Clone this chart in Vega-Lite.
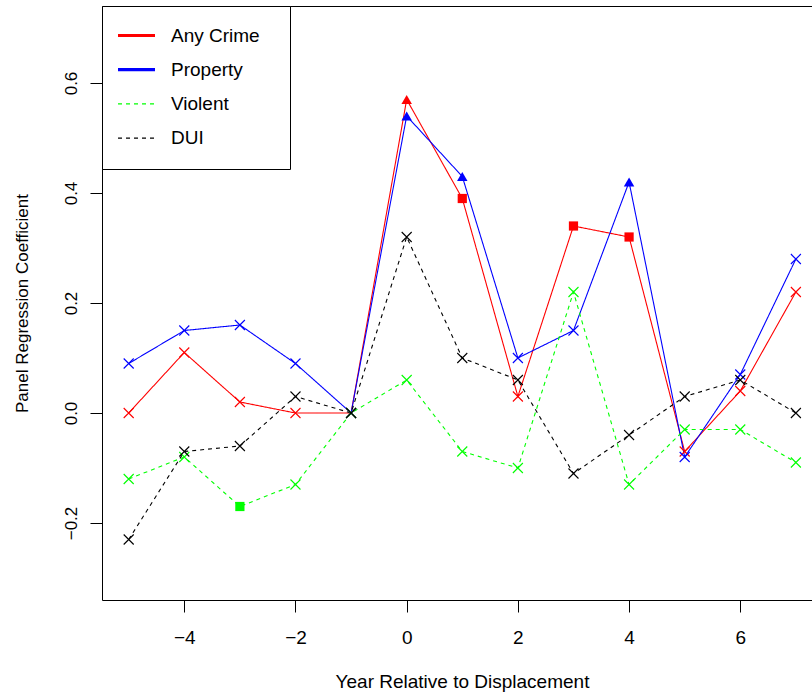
{
  "$schema": "https://vega.github.io/schema/vega-lite/v6.json",
  "autosize": {"type": "none"},
  "padding": {"left": 102, "top": 6, "right": 0, "bottom": 94},
  "width": 710,
  "height": 594,
  "background": "white",
  "config": {
    "font": "Liberation Sans",
    "view": {"stroke": "black", "strokeWidth": 1},
    "axis": {"grid": false, "domain": false, "tickColor": "black", "tickSize": 12, "labelColor": "black", "titleColor": "black", "titleFontWeight": "normal", "labelFont": "Liberation Sans", "titleFont": "Liberation Sans"}
  },
  "data": {"values": [
    {"year": -5, "series": "Any Crime", "coef": 0.00, "sig": "no"},
    {"year": -4, "series": "Any Crime", "coef": 0.11, "sig": "no"},
    {"year": -3, "series": "Any Crime", "coef": 0.02, "sig": "no"},
    {"year": -2, "series": "Any Crime", "coef": 0.00, "sig": "no"},
    {"year": -1, "series": "Any Crime", "coef": 0.00, "sig": "no"},
    {"year": 0, "series": "Any Crime", "coef": 0.57, "sig": "strong"},
    {"year": 1, "series": "Any Crime", "coef": 0.39, "sig": "moderate"},
    {"year": 2, "series": "Any Crime", "coef": 0.03, "sig": "no"},
    {"year": 3, "series": "Any Crime", "coef": 0.34, "sig": "moderate"},
    {"year": 4, "series": "Any Crime", "coef": 0.32, "sig": "moderate"},
    {"year": 5, "series": "Any Crime", "coef": -0.07, "sig": "no"},
    {"year": 6, "series": "Any Crime", "coef": 0.04, "sig": "no"},
    {"year": 7, "series": "Any Crime", "coef": 0.22, "sig": "no"},
    {"year": -5, "series": "Property", "coef": 0.09, "sig": "no"},
    {"year": -4, "series": "Property", "coef": 0.15, "sig": "no"},
    {"year": -3, "series": "Property", "coef": 0.16, "sig": "no"},
    {"year": -2, "series": "Property", "coef": 0.09, "sig": "no"},
    {"year": -1, "series": "Property", "coef": 0.00, "sig": "no"},
    {"year": 0, "series": "Property", "coef": 0.54, "sig": "strong"},
    {"year": 1, "series": "Property", "coef": 0.43, "sig": "strong"},
    {"year": 2, "series": "Property", "coef": 0.10, "sig": "no"},
    {"year": 3, "series": "Property", "coef": 0.15, "sig": "no"},
    {"year": 4, "series": "Property", "coef": 0.42, "sig": "strong"},
    {"year": 5, "series": "Property", "coef": -0.08, "sig": "no"},
    {"year": 6, "series": "Property", "coef": 0.07, "sig": "no"},
    {"year": 7, "series": "Property", "coef": 0.28, "sig": "no"},
    {"year": -5, "series": "Violent", "coef": -0.12, "sig": "no"},
    {"year": -4, "series": "Violent", "coef": -0.08, "sig": "no"},
    {"year": -3, "series": "Violent", "coef": -0.17, "sig": "moderate"},
    {"year": -2, "series": "Violent", "coef": -0.13, "sig": "no"},
    {"year": -1, "series": "Violent", "coef": 0.00, "sig": "no"},
    {"year": 0, "series": "Violent", "coef": 0.06, "sig": "no"},
    {"year": 1, "series": "Violent", "coef": -0.07, "sig": "no"},
    {"year": 2, "series": "Violent", "coef": -0.10, "sig": "no"},
    {"year": 3, "series": "Violent", "coef": 0.22, "sig": "no"},
    {"year": 4, "series": "Violent", "coef": -0.13, "sig": "no"},
    {"year": 5, "series": "Violent", "coef": -0.03, "sig": "no"},
    {"year": 6, "series": "Violent", "coef": -0.03, "sig": "no"},
    {"year": 7, "series": "Violent", "coef": -0.09, "sig": "no"},
    {"year": -5, "series": "DUI", "coef": -0.23, "sig": "no"},
    {"year": -4, "series": "DUI", "coef": -0.07, "sig": "no"},
    {"year": -3, "series": "DUI", "coef": -0.06, "sig": "no"},
    {"year": -2, "series": "DUI", "coef": 0.03, "sig": "no"},
    {"year": -1, "series": "DUI", "coef": 0.00, "sig": "no"},
    {"year": 0, "series": "DUI", "coef": 0.32, "sig": "no"},
    {"year": 1, "series": "DUI", "coef": 0.10, "sig": "no"},
    {"year": 2, "series": "DUI", "coef": 0.06, "sig": "no"},
    {"year": 3, "series": "DUI", "coef": -0.11, "sig": "no"},
    {"year": 4, "series": "DUI", "coef": -0.04, "sig": "no"},
    {"year": 5, "series": "DUI", "coef": 0.03, "sig": "no"},
    {"year": 6, "series": "DUI", "coef": 0.06, "sig": "no"},
    {"year": 7, "series": "DUI", "coef": 0.00, "sig": "no"}
  ]},
  "encoding": {
    "x": {"field": "year", "type": "quantitative",
      "scale": {"domain": [-5.48, 7.29], "nice": false, "zero": false},
      "axis": {"values": [-4, -2, 0, 2, 4, 6], "title": "Year Relative to Displacement", "labelFontSize": 19, "titleFontSize": 19, "labelBaseline": "alphabetic", "labelPadding": 31, "titleBaseline": "alphabetic", "titleY": 87, "titleX": 360, "titleAnchor": "middle"}},
    "y": {"field": "coef", "type": "quantitative",
      "scale": {"domain": [-0.34, 0.74], "nice": false, "zero": false},
      "axis": {"values": [-0.2, 0, 0.2, 0.4, 0.6], "format": ".1f", "title": "Panel Regression Coefficient", "labelFontSize": 17, "titleFontSize": 17, "labelAngle": -90, "labelAlign": "center", "labelBaseline": "alphabetic", "labelPadding": 14, "titleAngle": -90, "titleBaseline": "alphabetic", "titleX": -75}},
    "color": {"field": "series", "type": "nominal",
      "scale": {"domain": ["Any Crime", "Property", "Violent", "DUI"], "range": ["#ff0000", "#0000ff", "#00ff00", "#000000"]}}
  },
  "layer": [
    {
      "mark": {"type": "line", "strokeWidth": 1.1},
      "encoding": {
        "strokeDash": {"field": "series", "type": "nominal",
          "scale": {"domain": ["Any Crime", "Property", "Violent", "DUI"], "range": [[1, 0], [1, 0], [4, 4], [4, 4]]}},
        "color": {"field": "series", "type": "nominal",
          "scale": {"domain": ["Any Crime", "Property", "Violent", "DUI"], "range": ["#ff0000", "#0000ff", "#00ff00", "#000000"]},
          "legend": {"title": "\u00a0", "titleOrient": "right", "titlePadding": 10, "titleFontSize": 4, "orient": "none", "legendX": 0, "legendY": 0, "symbolType": "M-2,0L2,0", "symbolSize": 342, "symbolStrokeWidth": 1.2, "padding": 20, "symbolOffset": 5, "labelOffset": 25, "rowPadding": 14.2, "labelFontSize": 19, "labelFont": "Liberation Sans", "labelColor": "black", "strokeColor": "black", "fillColor": "white", "cornerRadius": 0,
            "encode": {"symbols": {"update": {"strokeWidth": {"signal": "datum.value == 'Any Crime' || datum.value == 'Property' ? 3.2 : 1.2"}}}}}}
      }
    },
    {
      "transform": [{"filter": "datum.sig == 'no'"}],
      "mark": {"type": "point", "shape": "M-1,-1L1,1M1,-1L-1,1", "filled": false, "size": 100, "strokeWidth": 1.1, "opacity": 1},
      "encoding": {"color": {"field": "series", "type": "nominal", "legend": null}}
    },
    {
      "transform": [{"filter": "datum.sig != 'no'"}],
      "mark": {"type": "point", "filled": true, "opacity": 1},
      "encoding": {
        "color": {"field": "series", "type": "nominal", "legend": null},
        "shape": {"field": "sig", "type": "nominal", "scale": {"domain": ["strong", "moderate"], "range": ["triangle-up", "square"]}, "legend": null},
        "size": {"field": "sig", "type": "nominal", "scale": {"domain": ["strong", "moderate"], "range": [110, 85]}, "legend": null}
      }
    }
  ]
}
